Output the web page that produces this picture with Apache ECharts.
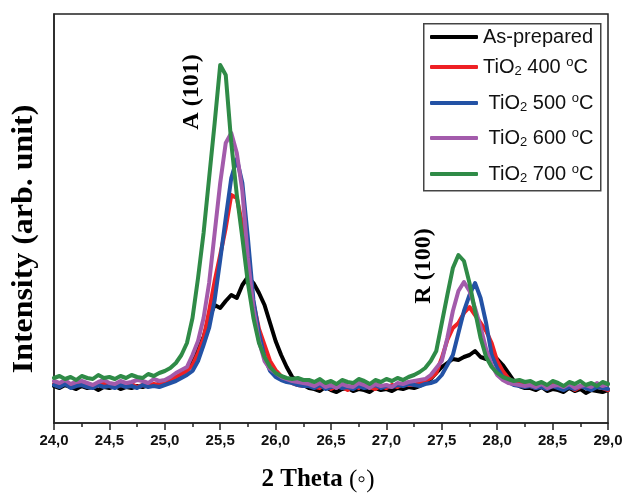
<!DOCTYPE html>
<html>
<head>
<meta charset="utf-8">
<script src="https://cdn.jsdelivr.net/npm/echarts@6/dist/echarts.min.js"></script>
<style>html,body{margin:0;padding:0;background:#fff}#c{width:624px;height:494px}</style>
</head>
<body>
<div id="c"></div>
<script>
// 2-theta positions (degrees)
const twoTheta = [
24.00,24.05,24.10,24.15,24.20,24.25,24.30,24.35,24.40,24.45,
24.50,24.55,24.60,24.65,24.70,24.75,24.80,24.85,24.90,24.95,
25.00,25.05,25.10,25.15,25.20,25.25,25.30,25.35,25.40,25.45,
25.50,25.55,25.60,25.65,25.70,25.75,25.80,25.85,25.90,25.95,
26.00,26.05,26.10,26.15,26.20,26.25,26.30,26.35,26.40,26.45,
26.50,26.55,26.60,26.65,26.70,26.75,26.80,26.85,26.90,26.95,
27.00,27.05,27.10,27.15,27.20,27.25,27.30,27.35,27.40,27.45,
27.50,27.55,27.60,27.65,27.70,27.75,27.80,27.85,27.90,27.95,
28.00,28.05,28.10,28.15,28.20,28.25,28.30,28.35,28.40,28.45,
28.50,28.55,28.60,28.65,28.70,28.75,28.80,28.85,28.90,28.95,
29.00];

// Intensities (arb. unit)
const asPrepared = [
37,35,38,36,34,37,35,36,33,36,35,37,34,36,35,37,36,38,37,39,
40,42,45,49,55,64,74,86,105,118,115,122,128,125,138,146,140,130,118,100,82,68,56,46,42,38,
35,34,32,36,33,31,34,35,32,34,33,31,35,33,34,32,35,34,36,
35,37,40,44,50,56,60,64,63,66,68,72,66,64,70,64,58,50,42,37,35,
35,33,36,32,34,33,31,35,32,34,30,33,32,31,33];
const tio2_400 = [
39,37,40,36,38,39,37,36,38,40,37,36,38,37,39,36,38,37,39,38,
41,43,46,49,52,58,70,85,112,142,168,195,228,225,198,155,120,94,78,62,53,47,43,40,38,37,
38,36,35,39,34,37,36,33,38,35,40,36,34,37,35,38,36,39,38,
38,40,42,45,50,65,83,95,100,110,116,108,100,92,80,62,52,45,40,42,38,
37,35,39,34,38,36,35,37,33,36,38,34,37,35,33];
const tio2_500 = [
38,36,39,35,37,38,36,35,38,36,37,35,38,36,37,35,38,36,37,36,
38,40,42,45,48,52,62,78,95,123,163,205,245,264,240,185,123,90,66,52,46,43,41,40,38,37,
37,35,38,34,36,37,35,36,34,37,35,36,38,35,37,36,38,37,39,
38,37,39,40,42,48,58,68,90,112,128,140,125,100,68,55,46,41,38,37,36,
37,35,36,34,37,35,33,36,34,37,35,33,36,35,34];
const tio2_600 = [
42,40,43,39,41,42,40,38,41,43,40,39,42,40,41,43,42,40,44,42,
43,46,50,53,56,68,82,105,140,190,240,280,290,270,232,165,115,82,62,54,50,46,44,42,41,40,
39,37,40,36,38,35,39,37,36,40,38,35,39,37,38,36,40,39,41,
42,43,44,48,55,62,85,112,132,141,132,115,96,74,58,48,43,40,39,38,37,
38,36,39,35,37,38,36,39,35,37,38,36,40,37,39];
const tio2_700 = [
45,47,44,46,43,47,45,44,48,45,46,44,47,45,48,46,45,49,47,50,
52,55,60,68,80,105,145,190,245,300,358,348,280,228,185,140,105,80,66,56,50,47,45,44,45,43,
43,41,44,40,42,39,43,41,40,44,42,39,43,41,44,42,45,43,46,
48,51,55,62,72,100,128,155,168,162,140,112,85,66,56,50,46,44,42,43,41,
42,39,41,38,42,40,37,41,39,42,38,40,37,41,39];

const seriesNames = ['As-prepared','TiO2 400 °C','TiO2 500 °C','TiO2 600 °C','TiO2 700 °C'];
const legendRich = ['As-prepared','TiO{sub|2} 400 {sup|o}C',' TiO{sub|2} 500 {sup|o}C',' TiO{sub|2} 600 {sup|o}C',' TiO{sub|2} 700 {sup|o}C'];
const seriesValues = [asPrepared, tio2_400, tio2_500, tio2_600, tio2_700];
const colors = ['#000000','#ee2024','#2352a5','#a35bab','#2f8b47'];
const xTicks = {min:24, max:29, step:0.5};
const legendRowY = [37,67,103,138,174];

const chart = echarts.init(document.getElementById('c'), null, {renderer:'canvas'});

const serif = "'Liberation Serif','Times New Roman',serif";
const sans = "'Liberation Sans',Arial,sans-serif";

const legends = seriesNames.map((n,i)=>({
  data:[n], left:430, top:legendRowY[i]-11, orient:'vertical', padding:0,
  itemWidth:48, itemHeight:4, icon:'roundRect', itemGap:0,
  formatter: () => legendRich[i],
  textStyle:{fontFamily:sans, fontSize:20, color:'#111', lineHeight:22,
    rich:{
      sub:{fontFamily:sans, fontSize:13, lineHeight:12, verticalAlign:'bottom', color:'#111'},
      sup:{fontFamily:sans, fontSize:13, lineHeight:12, verticalAlign:'top', color:'#111'}
    }}
}));

chart.setOption({
  animation:false,
  backgroundColor:'#fff',
  grid:{left:54, right:16, top:14, bottom:71, show:true, borderColor:'#222', borderWidth:1.5, outerBoundsMode:'none', containLabel:false},
  xAxis:{type:'value', min:xTicks.min, max:xTicks.max, interval:xTicks.step,
    axisLine:{show:true, onZero:false, lineStyle:{color:'#222', width:1.5}},
    axisTick:{show:true, inside:false, length:7, lineStyle:{color:'#222', width:1.5}},
    minorTick:{show:true, splitNumber:2, length:4, lineStyle:{color:'#222', width:1.5}},
    splitLine:{show:false}, minorSplitLine:{show:false},
    axisLabel:{fontFamily:sans, fontWeight:'bold', fontSize:15, color:'#111', margin:10,
      formatter:v=>v.toFixed(1).replace('.',',')}
  },
  yAxis:{type:'value', min:0, max:409,
    axisLine:{show:true, lineStyle:{color:'#222', width:1.5}},
    axisTick:{show:false}, axisLabel:{show:false}, splitLine:{show:false}
  },
  legend:legends,
  graphic:[
    {type:'rect', left:423, top:23, z:1, shape:{width:177, height:167}, style:{fill:'#fff', stroke:'#444', lineWidth:1.5}},
    {type:'text', x:25, y:239, rotation:Math.PI/2, scaleX:1.1, style:{text:'Intensity (arb. unit)', font:"bold 29px 'Liberation Serif','Times New Roman',serif", fill:'#000', textAlign:'center', textVerticalAlign:'middle'}},
    {type:'text', x:318, y:480, style:{text:'{b|2 Theta }{n|(◦)}', textAlign:'center', textVerticalAlign:'middle',
      rich:{b:{fontFamily:serif, fontWeight:'bold', fontSize:25, fill:'#000'}, n:{fontFamily:serif, fontSize:25, fill:'#000'}}}},
    {type:'text', x:192, y:92, rotation:Math.PI/2, style:{text:'A (101)', font:"bold 24px 'Liberation Serif','Times New Roman',serif", fill:'#000', textAlign:'center', textVerticalAlign:'middle'}},
    {type:'text', x:424, y:266, rotation:Math.PI/2, style:{text:'R (100)', font:"bold 24px 'Liberation Serif','Times New Roman',serif", fill:'#000', textAlign:'center', textVerticalAlign:'middle'}}
  ],
  series: seriesNames.map((n,i)=>({
    name:n, type:'line', showSymbol:false, symbol:'none', smooth:false,
    data: twoTheta.map((x,k)=>[x, seriesValues[i][k]]),
    lineStyle:{color:colors[i], width:4, join:'round', cap:'round'},
    itemStyle:{color:colors[i]},
    z:2+i
  }))
});
</script>
</body>
</html>
